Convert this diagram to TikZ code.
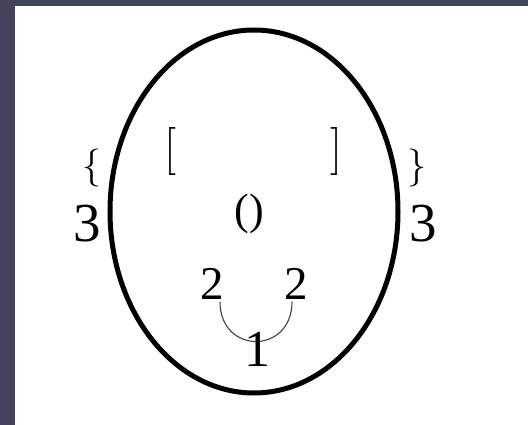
\documentclass[tikz,border=0pt]{standalone}
\usepackage{fontspec}
\newfontfamily\numfont{Liberation Serif}
\usepackage{tikz}
\definecolor{slatebg}{HTML}{43445B}
\tikzset{
  glyph/.style={inner sep=0pt,text=black},
  bigdigit/.style={glyph,font=\numfont\fontsize{55}{55}\selectfont},
  digit/.style={glyph,font=\numfont\fontsize{47}{47}\selectfont},
  mouth/.style={black!75,line width=1.1pt},
}

\begin{document}
\begin{tikzpicture}[x=1pt,y=-1pt]
    \fill[slatebg] (0,0) rectangle (528,425);
    \fill[white] (15,6) rectangle (528,425);
    \draw[line width=5pt] (254,211.5) ellipse [x radius=144, y radius=181.5];
    % ears
    \node[glyph,font=\fontsize{38}{38}\selectfont] (lbrace) at (92,168) {\{};
    \node[glyph,font=\fontsize{38}{38}\selectfont] (rbrace) at (417,168) {\}};
    \node[bigdigit] (lthree) at (87,224) {3};
    \node[bigdigit] (rthree) at (423,224) {3};
    % eyes and nose
    \node[glyph,font=\fontsize{48}{48}\selectfont] (leye) at (170,152) {[};
    \node[glyph,font=\fontsize{48}{48}\selectfont] (reye) at (336,152) {]};
    \node[glyph,font=\numfont\fontsize{44}{44}\selectfont] (nose) at (249.5,214) {()};
    % mouth
    \node[digit] (ltwo) at (212,284) {2};
    \node[digit] (rtwo) at (296,284) {2};
    \draw[mouth] ([xshift=8pt,yshift=-2pt]ltwo.south) .. controls +(0,53) and +(0,53) .. ([xshift=-4pt,yshift=-2pt]rtwo.south);
    \node[digit,font=\numfont\fontsize{52}{52}\selectfont] (one) at (257,349.5) {1};
\end{tikzpicture}
\end{document}
